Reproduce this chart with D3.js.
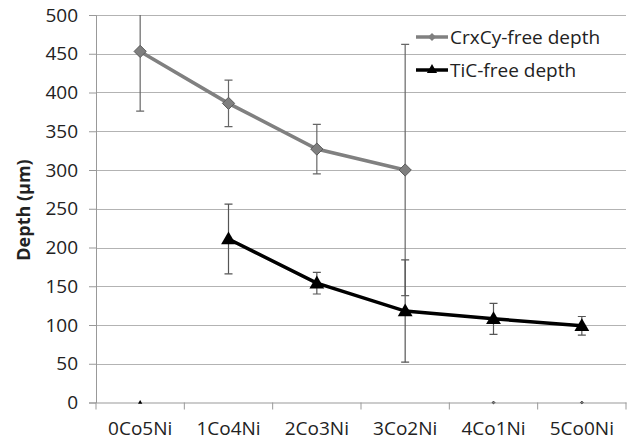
<!DOCTYPE html>
<html>
<head>
<meta charset="utf-8">
<script src="https://cdn.jsdelivr.net/npm/d3@7"></script>
<style>
  body { margin: 0; background: #fff; }
  text { font-family: "Open Sans", sans-serif; fill: #222; }
</style>
</head>
<body>
<div id="wrapper"></div>
<script>
// data
const categories = ["0Co5Ni", "1Co4Ni", "2Co3Ni", "3Co2Ni", "4Co1Ni", "5Co0Ni"]
const crxcyDepth = [453, 386, 327, 300, 0, 0]
const crxcyError = [77, 30, 32, 162, 0, 0]
const ticDepth = [0, 211, 154, 118, 108, 99]
const ticError = [0, 45, 14, 66, 20, 12]
const yTicks = [0, 50, 100, 150, 200, 250, 300, 350, 400, 450, 500]

const crxcyData = categories.map((c, i) => ({cat: c, v: crxcyDepth[i], e: crxcyError[i]}))
const ticData = categories.map((c, i) => ({cat: c, v: ticDepth[i], e: ticError[i]}))

let dimensions = {
    width: 635,
    height: 443,
    margins: { top: 15, right: 9, bottom: 40, left: 96 }
}
dimensions.boundedWidth = dimensions.width - dimensions.margins.left - dimensions.margins.right
dimensions.boundedHeight = 402.5 - dimensions.margins.top

const svg = d3.select("#wrapper")
    .append("svg")
        .attr("width", dimensions.width)
        .attr("height", dimensions.height)

const bounds = svg.append("g")
    .attr("transform", `translate(${dimensions.margins.left},${dimensions.margins.top})`)

const xScale = d3.scaleBand()
    .domain(categories)
    .range([0, dimensions.boundedWidth])
const xCenter = c => xScale(c) + xScale.bandwidth() / 2

const yScale = d3.scaleLinear()
    .domain([0, 500])
    .range([dimensions.boundedHeight, 0])

svg.append("defs").append("clipPath").attr("id", "plotclip")
    .append("rect")
    .attr("x", 0).attr("y", 0)
    .attr("width", dimensions.boundedWidth)
    .attr("height", dimensions.boundedHeight)

// gridlines
bounds.append("g").selectAll("line")
    .data(yTicks.filter(t => t > 0))
    .join("line")
        .attr("x1", 0)
        .attr("x2", dimensions.boundedWidth)
        .attr("y1", d => Math.round(yScale(d)) + 0.5)
        .attr("y2", d => Math.round(yScale(d)) + 0.5)
        .attr("stroke", "#b3b3b3")
        .attr("stroke-width", 1)

// y axis
const yAxis = bounds.append("g")
    .call(d3.axisLeft(yScale).tickValues(yTicks).tickSize(7).tickPadding(11))
yAxis.attr("font-size", 19)
yAxis.select(".domain").attr("stroke", "#999")
yAxis.selectAll(".tick line").attr("stroke", "#999")
yAxis.selectAll(".tick text")
    .attr("fill", "#222")
    .attr("font-family", "Open Sans, sans-serif")

// x axis
const xAxisGenerator = d3.axisBottom(xScale).tickSize(0).tickPadding(19)
const xAxis = bounds.append("g")
    .attr("transform", `translate(0,${dimensions.boundedHeight})`)
    .call(xAxisGenerator)
xAxis.attr("font-size", 19)
xAxis.select(".domain").attr("stroke", "#999")
xAxis.selectAll(".tick text")
    .attr("fill", "#222")
    .attr("font-family", "Open Sans, sans-serif")
// category boundary ticks
xAxis.append("g").selectAll("line")
    .data(categories.concat(["end"]))
    .join("line")
        .attr("x1", (d, i) => i * xScale.step())
        .attr("x2", (d, i) => i * xScale.step())
        .attr("y1", 0)
        .attr("y2", 7)
        .attr("stroke", "#999")

// axis title
svg.append("text")
    .attr("transform", `translate(30,210) rotate(-90)`)
    .attr("text-anchor", "middle")
    .attr("font-size", 18)
    .attr("font-weight", "bold")
    .text("Depth (µm)")

const plot = bounds.append("g").attr("clip-path", "url(#plotclip)")

function drawErrors(data, color) {
    const g = plot.append("g")
    const withErr = data.filter(d => d.e > 0)
    g.selectAll(".stem").data(withErr).join("line")
        .attr("x1", d => xCenter(d.cat)).attr("x2", d => xCenter(d.cat))
        .attr("y1", d => yScale(d.v + d.e)).attr("y2", d => yScale(d.v - d.e))
        .attr("stroke", color).attr("stroke-width", 1.2)
    ;[1, -1].forEach(s => {
        g.selectAll(".cap" + s).data(withErr).join("line")
            .attr("x1", d => xCenter(d.cat) - 4).attr("x2", d => xCenter(d.cat) + 4)
            .attr("y1", d => yScale(d.v + s * d.e)).attr("y2", d => yScale(d.v + s * d.e))
            .attr("stroke", color).attr("stroke-width", 1.2)
    })
}

drawErrors(crxcyData, "#666")
drawErrors(ticData, "#555")

const lineGenerator = d3.line()
    .x(d => xCenter(d.cat))
    .y(d => yScale(d.v))

// CrxCy series
const crLine = crxcyData.filter(d => d.v > 0)
plot.append("path")
    .attr("d", lineGenerator(crLine))
    .attr("fill", "none")
    .attr("stroke", "#808080")
    .attr("stroke-width", 3.5)
const diamond = d3.symbol().type(d3.symbolDiamond2)
bounds.append("g").selectAll("path")
    .data(crxcyData)
    .join("path")
        .attr("transform", d => `translate(${xCenter(d.cat)},${yScale(d.v)})`)
        .attr("d", d => d.v > 0 ? diamond.size(95)() : diamond.size(5)())
        .attr("fill", "#7f7f7f")
        .attr("stroke", d => d.v > 0 ? "#5a5a5a" : "#444")
        .attr("stroke-width", 1)

// TiC series
const tiLine = ticData.filter(d => d.v > 0)
plot.append("path")
    .attr("d", lineGenerator(tiLine))
    .attr("fill", "none")
    .attr("stroke", "#000")
    .attr("stroke-width", 3.5)
const triangle = d3.symbol().type(d3.symbolTriangle)
bounds.append("g").selectAll("path")
    .data(ticData)
    .join("path")
        .attr("transform", d => `translate(${xCenter(d.cat)},${yScale(d.v) + (d.v > 0 ? 1 : 0)})`)
        .attr("d", d => d.v > 0 ? triangle.size(95)() : triangle.size(8)())
        .attr("fill", "#000")

// legend
const legendItems = [
    {name: "CrxCy-free depth", color: "#808080", sym: d3.symbolDiamond2, size: 40, fill: "#7f7f7f"},
    {name: "TiC-free depth", color: "#000", sym: d3.symbolTriangle, size: 45, fill: "#000"}
]
const legend = svg.append("g").attr("transform", "translate(416,37)")
const rows = legend.selectAll("g").data(legendItems).join("g")
    .attr("transform", (d, i) => `translate(0,${i * 33})`)
rows.append("line")
    .attr("x1", 0).attr("x2", 32).attr("y1", 0).attr("y2", 0)
    .attr("stroke", d => d.color).attr("stroke-width", 3.5)
rows.append("path")
    .attr("transform", "translate(16,0)")
    .attr("d", d => d3.symbol().type(d.sym).size(d.size)())
    .attr("fill", d => d.fill)
rows.append("text")
    .attr("x", 34)
    .attr("y", 0)
    .attr("dy", "0.35em")
    .attr("font-size", 19)
    .text(d => d.name)
</script>
</body>
</html>
